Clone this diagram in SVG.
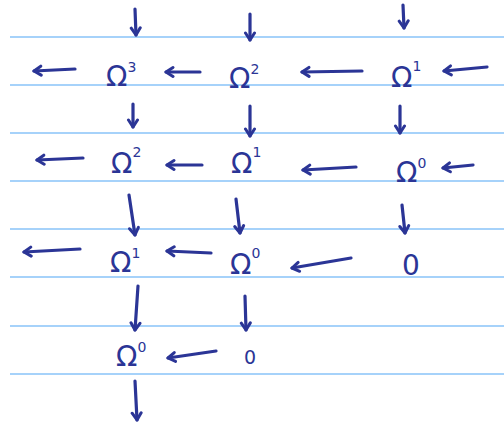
<svg xmlns="http://www.w3.org/2000/svg" width="504" height="425" viewBox="0 0 504 425">
<defs>
<style>
.rule{stroke:#a6d2fa;stroke-width:2}
.ink{fill:#2b3596;font-family:"DejaVu Sans",sans-serif}
.big{font-size:28px}
.sup{font-size:14px}
.arr{stroke:#2b3596;stroke-width:3.2;fill:none;stroke-linecap:round;marker-end:url(#h)}
</style>
<marker id="h" viewBox="-10 -7 12 14" refX="0" refY="0" markerWidth="12" markerHeight="14" markerUnits="userSpaceOnUse" orient="auto">
<path d="M-7,-4.5 L0,0 L-7,4.5" fill="none" stroke="#2b3596" stroke-width="3" stroke-linecap="round" stroke-linejoin="round"/>
</marker>
</defs>
<rect width="504" height="425" fill="#ffffff"/>
<g id="ruling">
<line class="rule" x1="10" y1="37" x2="504" y2="37"/>
<line class="rule" x1="10" y1="85" x2="504" y2="85"/>
<line class="rule" x1="10" y1="133" x2="504" y2="133"/>
<line class="rule" x1="10" y1="181" x2="504" y2="181"/>
<line class="rule" x1="10" y1="229" x2="504" y2="229"/>
<line class="rule" x1="10" y1="277" x2="504" y2="277"/>
<line class="rule" x1="10" y1="326" x2="504" y2="326"/>
<line class="rule" x1="10" y1="374" x2="504" y2="374"/>
</g>
<g id="connectors">
<line class="arr" x1="75" y1="69" x2="34" y2="71"/>
<line class="arr" x1="200" y1="72" x2="166" y2="72"/>
<line class="arr" x1="362" y1="71" x2="302" y2="72"/>
<line class="arr" x1="487" y1="67" x2="444" y2="71"/>
<line class="arr" x1="135" y1="9" x2="136" y2="35"/>
<line class="arr" x1="250" y1="14" x2="250" y2="40"/>
<line class="arr" x1="403" y1="5" x2="404" y2="28"/>
<line class="arr" x1="133" y1="104" x2="133" y2="127"/>
<line class="arr" x1="250" y1="106" x2="250" y2="136"/>
<line class="arr" x1="400" y1="106" x2="400" y2="133"/>
<line class="arr" x1="83" y1="158" x2="37" y2="160"/>
<line class="arr" x1="202" y1="165" x2="167" y2="165"/>
<line class="arr" x1="356" y1="167" x2="303" y2="170"/>
<line class="arr" x1="473" y1="165" x2="443" y2="168"/>
<line class="arr" x1="129" y1="195" x2="135" y2="235"/>
<line class="arr" x1="236" y1="199" x2="240" y2="233"/>
<line class="arr" x1="402" y1="205" x2="405" y2="233"/>
<line class="arr" x1="80" y1="249" x2="24" y2="252"/>
<line class="arr" x1="211" y1="253" x2="167" y2="251"/>
<line class="arr" x1="351" y1="258" x2="292" y2="268"/>
<line class="arr" x1="138" y1="286" x2="135" y2="330"/>
<line class="arr" x1="245" y1="296" x2="246" y2="330"/>
<line class="arr" x1="216" y1="351" x2="168" y2="358"/>
<line class="arr" x1="135" y1="381" x2="137" y2="420"/>
</g>
<g id="n-r1c1"><text class="ink big" x="106" y="86">Ω<tspan class="sup" dy="-14">3</tspan></text></g>
<g id="n-r1c2"><text class="ink big" x="229" y="88">Ω<tspan class="sup" dy="-14">2</tspan></text></g>
<g id="n-r1c3"><text class="ink big" x="391" y="87">Ω<tspan class="sup" dy="-16">1</tspan></text></g>
<g id="n-r2c1"><text class="ink big" x="111" y="173">Ω<tspan class="sup" dy="-16">2</tspan></text></g>
<g id="n-r2c2"><text class="ink big" x="231" y="173">Ω<tspan class="sup" dy="-16">1</tspan></text></g>
<g id="n-r2c3"><text class="ink big" x="396" y="182">Ω<tspan class="sup" dy="-14">0</tspan></text></g>
<g id="n-r3c1"><text class="ink big" x="110" y="272">Ω<tspan class="sup" dy="-14">1</tspan></text></g>
<g id="n-r3c2"><text class="ink big" x="230" y="274">Ω<tspan class="sup" dy="-16">0</tspan></text></g>
<g id="n-r3c3"><text class="ink big" x="402" y="275">0</text></g>
<g id="n-r4c1"><text class="ink big" x="116" y="366">Ω<tspan class="sup" dy="-14">0</tspan></text></g>
<g id="n-r4c2"><text class="ink" style="font-size:19px" x="244" y="364">0</text></g>
</svg>
